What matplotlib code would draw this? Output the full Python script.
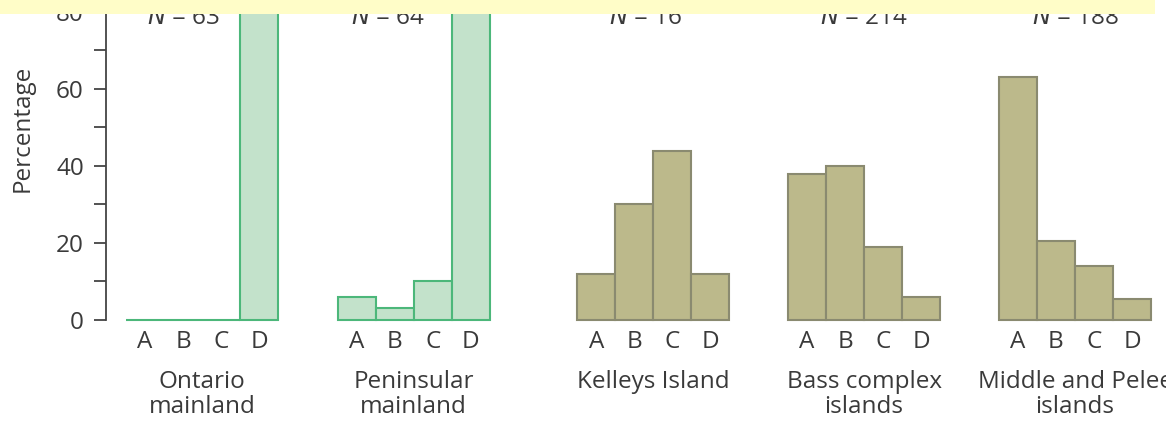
import matplotlib.pyplot as plt
from matplotlib.patches import Rectangle
from matplotlib.ticker import MultipleLocator

plt.rcParams['font.family'] = ['Open Sans', 'DejaVu Sans']

# bar categories and the five populations
categories = ['A', 'B', 'C', 'D']
groups = ['Ontario\nmainland', 'Peninsular\nmainland', 'Kelleys Island',
          'Bass complex\nislands', 'Middle and Pelee\nislands']
sample_sizes = ['63', '64', '16', '214', '188']

# percentage of snakes in each band class
ontario = [0, 0, 0, 100]
peninsular = [6, 3, 10, 81]
kelleys = [12, 30, 44, 12]
bass = [38, 40, 19, 6]
middle_pelee = [63, 20.5, 14, 5.5]
values = [ontario, peninsular, kelleys, bass, middle_pelee]

is_mainland = [True, True, False, False, False]

# layout (bar widths are 1 data unit)
group_left = [0.53, 6.1, 12.4, 17.95, 23.5]
n_label_shift = [-0.5, -0.68, -0.2, 0.0, 0.0]

green_fill, green_edge = '#c3e2cb', '#4cb77a'
olive_fill, olive_edge = '#bcb98b', '#8a8a70'
text_col = '#3a3a3a'
fs = 17.5

fig = plt.figure(figsize=(11.66, 4.23), dpi=100)
ax = fig.add_axes([106 / 1166, 1 - 323.85 / 423, 1 - 106 / 1166, 323.85 / 423])
ax.set_xlim(0, (1166 - 106) / 38)
ax.set_ylim(-1, 83.1)

for i, vals in enumerate(values):
    xs = [group_left[i] + k + 0.5 for k in range(len(categories))]
    fc, ec = (green_fill, green_edge) if is_mainland[i] else (olive_fill, olive_edge)
    ax.bar(xs, vals, width=1, color=fc, edgecolor=ec, linewidth=1.5, zorder=2)
    for x, c in zip(xs, categories):
        ax.text(x, -5.6, c, ha='center', va='center', fontsize=fs,
                color=text_col, clip_on=False)
    center = group_left[i] + 2
    ax.text(center, -13.0, groups[i], ha='center', va='top', fontsize=fs,
            color=text_col, linespacing=1.06, clip_on=False)
    ax.text(center + n_label_shift[i], 76.9, '$N$ = ' + sample_sizes[i],
            ha='center', va='baseline', fontsize=fs, color=text_col)

for s in ['top', 'right', 'bottom']:
    ax.spines[s].set_visible(False)
ax.spines['left'].set_bounds(0, 83.1)
ax.spines['left'].set_color('#444444')
ax.spines['left'].set_linewidth(1.3)
ax.set_xticks([])
ax.yaxis.set_major_locator(MultipleLocator(20))
ax.yaxis.set_minor_locator(MultipleLocator(10))
ax.tick_params(axis='y', which='both', length=9, width=1.3, color='#444444',
               labelsize=fs, labelcolor=text_col, pad=7)
ax.set_ylim(-1, 83.1)

fig.text(23 / 1166, 1 - 128 / 423, 'Percentage', rotation=90, ha='center',
         va='center', fontsize=fs, color=text_col)

# pale yellow band across the top edge
fig.add_artist(Rectangle((0, 1 - 14 / 423), 1155 / 1166, 14 / 423,
                         transform=fig.transFigure, facecolor='#fffdc8',
                         edgecolor='none', zorder=10))

fig.savefig('out.png', dpi=100)
